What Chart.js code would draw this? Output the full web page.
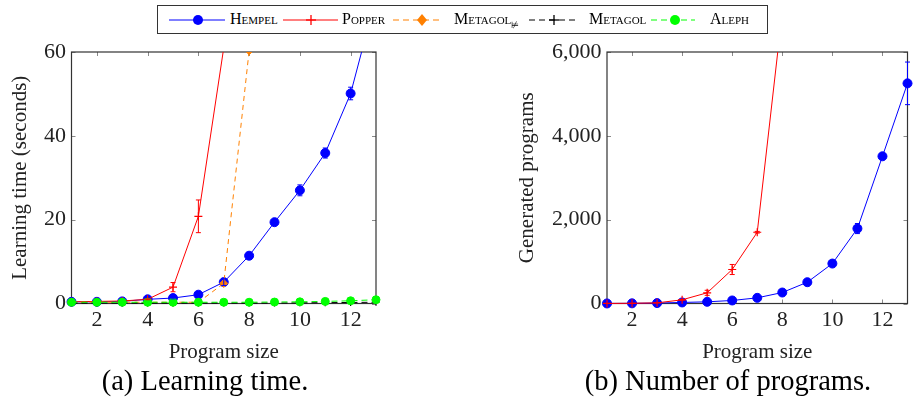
<!DOCTYPE html>
<html lang="en">
<head>
<meta charset="UTF-8">
<title>Learning time and number of programs</title>
<script src="https://cdn.jsdelivr.net/npm/chart.js"></script>
<style>
  body { margin: 0; width: 913px; height: 403px; background: #fff; position: relative; overflow: hidden;
         font-family: "Liberation Serif", serif; color: #000; }
  canvas { position: absolute; top: 0; }
  #graficoTempo { left: 0; }
  #graficoProgramas { left: 500px; }
  #legenda { position: absolute; left: 157px; top: 5px; width: 611px; height: 29px; border: 1px solid #333;
             box-sizing: border-box; background: #fff; z-index: 2; }
  #legenda svg { position: absolute; left: 0; top: 0; }
  .item { position: absolute; top: 3px; font-size: 16px; font-variant: small-caps; line-height: 20px; white-space: nowrap; }
  .item sub { font-size: 9px; font-variant: normal; vertical-align: -4px; }
  .legendaFig { position: absolute; top: 365px; font-size: 28.5px; line-height: 32px; text-align: center; white-space: nowrap; }
</style>
</head>
<body>

<div id="legenda">
  <svg width="611" height="29">
    <!-- Hempel -->
    <line x1="11" y1="14" x2="67" y2="14" stroke="#0000ff" stroke-width="1"/>
    <circle cx="40" cy="14" r="5" fill="#0000ff"/>
    <!-- Popper -->
    <line x1="125" y1="14" x2="180" y2="14" stroke="#ff0000" stroke-width="1"/>
    <line x1="153" y1="9" x2="153" y2="19" stroke="#ff0000" stroke-width="1.3"/>
    <line x1="148" y1="14" x2="158" y2="14" stroke="#ff0000" stroke-width="1.3"/>
    <!-- Metagol nao -->
    <line x1="235" y1="14" x2="285" y2="14" stroke="#ff8000" stroke-width="1" stroke-dasharray="6 4"/>
    <polygon points="264,8 269,14 264,20 259,14" fill="#ff8000"/>
    <!-- Metagol -->
    <line x1="371" y1="14" x2="420" y2="14" stroke="#000" stroke-width="1" stroke-dasharray="6 4"/>
    <line x1="396" y1="9" x2="396" y2="19" stroke="#000" stroke-width="1.3"/>
    <line x1="391" y1="14" x2="401" y2="14" stroke="#000" stroke-width="1.3"/>
    <!-- Aleph -->
    <line x1="493" y1="14" x2="537" y2="14" stroke="#00ff00" stroke-width="1" stroke-dasharray="6 4"/>
    <circle cx="517" cy="14" r="5" fill="#00ff00"/>
  </svg>
  <span class="item" style="left:72px">Hempel</span>
  <span class="item" style="left:184px">Popper</span>
  <span class="item" style="left:296px">Metagol<sub>⊭</sub></span>
  <span class="item" style="left:431px">Metagol</span>
  <span class="item" style="left:552px">Aleph</span>
</div>

<canvas id="graficoTempo" width="400" height="370"></canvas>
<canvas id="graficoProgramas" width="413" height="370"></canvas>

<div class="legendaFig" style="left:55px; width:300px">(a) Learning time.</div>
<div class="legendaFig" style="left:578px; width:300px">(b) Number of programs.</div>

<script>
// tamanhos de programa (eixo x)
const tamanhos = [1, 2, 3, 4, 5, 6, 7, 8, 9, 10, 11, 12, 13];
const ticksX = [2, 4, 6, 8, 10, 12];

// (a) tempo de aprendizado em segundos
const ticksTempo = [0, 20, 40, 60];
const hempelTempo = [0.4, 0.4, 0.5, 1.0, 1.3, 2.1, 5.1, 11.4, 19.4, 27.0, 35.9, 50.1, 73];
const hempelTempoErro = [0, 0, 0, 0, 0.2, 0.3, 0.8, 0.8, 0.5, 1.3, 1.2, 1.5, 2];
const popperTempo = [0.4, 0.5, 0.6, 1.0, 3.9, 20.8, 61];
const popperTempoErro = [0, 0, 0, 0.1, 1.1, 3.9, 0];
const metagolNaoTempo = [0.3, 0.3, 0.3, 0.3, 0.3, 0.3, 4.8, 60.3];
const metagolTempo = [0.1, 0.1, 0.1, 0.1, 0.1, 0.1, 0.1, 0.1, 0.1, 0.15, 0.2, 0.25, 0.3];
const alephTempo = [0.3, 0.3, 0.3, 0.3, 0.3, 0.3, 0.3, 0.3, 0.35, 0.4, 0.5, 0.65, 0.9];

// (b) programas gerados
const ticksProgramas = [0, 2000, 4000, 6000];
const hempelProgramas = [1, 4, 10, 25, 40, 72, 135, 262, 508, 953, 1788, 3512, 5252];
const hempelProgramasErro = [0, 0, 0, 0, 0, 5, 10, 15, 20, 30, 120, 40, 508];
const popperProgramas = [1, 5, 15, 88, 255, 811, 1700, 6950];
const popperProgramasErro = [0, 0, 0, 5, 60, 120, 20, 0];

const AZUL = '#0000ff', VERMELHO = '#ff0000', LARANJA = '#ff8000', PRETO = '#000000', VERDE = '#00ff00';

function serie(label, valores, erros, cor, extra) {
  return Object.assign({
    label: label,
    data: valores.map((v, i) => ({ x: tamanhos[i], y: v })),
    erros: erros || [],
    borderColor: cor,
    backgroundColor: cor,
    pointBackgroundColor: cor,
    pointBorderColor: cor,
    borderWidth: 1,
    pointBorderWidth: 1,
    tension: 0,
    clip: { left: 10, right: 10, top: 0, bottom: 10 }
  }, extra);
}

// barras de erro desenhadas com as escalas do chart
const barrasErro = {
  id: 'barrasErro',
  afterDatasetsDraw(chart) {
    const { ctx, chartArea: a, scales: { x, y } } = chart;
    ctx.save();
    ctx.beginPath();
    ctx.rect(a.left - 10, a.top, a.width + 20, a.height + 10);
    ctx.clip();
    chart.data.datasets.forEach(ds => {
      ctx.strokeStyle = ds.borderColor;
      ctx.lineWidth = 1;
      ds.erros.forEach((e, i) => {
        if (!e) return;
        const v = ds.data[i].y;
        const px = x.getPixelForValue(ds.data[i].x);
        const y1 = y.getPixelForValue(v + e);
        const y2 = y.getPixelForValue(v - e);
        ctx.beginPath();
        ctx.moveTo(px, y1); ctx.lineTo(px, y2);
        ctx.moveTo(px - 2.5, y1); ctx.lineTo(px + 2.5, y1);
        ctx.moveTo(px - 2.5, y2); ctx.lineTo(px + 2.5, y2);
        ctx.stroke();
      });
    });
    ctx.restore();
  }
};

// moldura e marcas internas no estilo pgfplots
const moldura = {
  id: 'moldura',
  beforeDatasetsDraw(chart) {
    const { ctx, chartArea: a, scales: { x, y } } = chart;
    ctx.save();
    ctx.strokeStyle = '#8a8a8a';
    ctx.lineWidth = 1;
    ctx.beginPath();
    x.ticks.forEach(t => {
      const px = Math.round(x.getPixelForValue(t.value)) + 0.5;
      ctx.moveTo(px, a.bottom); ctx.lineTo(px, a.bottom - 4);
      ctx.moveTo(px, a.top); ctx.lineTo(px, a.top + 4);
    });
    y.ticks.forEach(t => {
      const py = Math.round(y.getPixelForValue(t.value)) + 0.5;
      ctx.moveTo(a.left, py); ctx.lineTo(a.left + 4, py);
      ctx.moveTo(a.right, py); ctx.lineTo(a.right - 4, py);
    });
    ctx.stroke();
    ctx.strokeStyle = '#333';
    ctx.lineWidth = 1.2;
    ctx.strokeRect(a.left, a.top, a.width, a.height);
    ctx.restore();
  }
};

function opcoes(ticksY, maxY, tituloY, larguraY, padTituloY, padDireita, formato) {
  return {
    responsive: false,
    animation: false,
    layout: { padding: { left: 0, right: padDireita, top: 52, bottom: 0 } },
    plugins: { legend: { display: false }, tooltip: { enabled: false } },
    scales: {
      x: {
        type: 'linear', min: 1, max: 13,
        afterBuildTicks: s => { s.ticks = ticksX.map(v => ({ value: v })); },
        afterFit: s => { s.height = 66.5; },
        grid: { display: false, drawTicks: false },
        border: { display: false },
        ticks: { padding: 4, color: '#222', font: { family: 'Liberation Serif', size: 22 }, maxRotation: 0 },
        title: { display: true, text: 'Program size', color: '#222', padding: { top: 0, bottom: 5 },
                 font: { family: 'Liberation Serif', size: 21, lineHeight: 1.2 } }
      },
      y: {
        type: 'linear', min: 0, max: maxY,
        afterBuildTicks: s => { s.ticks = ticksY.map(v => ({ value: v })); },
        afterFit: s => { s.width = larguraY; },
        grid: { display: false, drawTicks: false },
        border: { display: false },
        ticks: { padding: 5.5, color: '#222', font: { family: 'Liberation Serif', size: 22 }, callback: formato },
        title: { display: true, text: tituloY, color: '#222', padding: { top: padTituloY, bottom: 0 },
                 font: { family: 'Liberation Serif', size: 21, lineHeight: 1.2 } }
      }
    }
  };
}

new Chart(document.getElementById('graficoTempo'), {
  type: 'line',
  data: {
    datasets: [
      serie('Hempel', hempelTempo, hempelTempoErro, AZUL, { pointStyle: 'circle', pointRadius: 4.5, order: 5 }),
      serie('Popper', popperTempo, popperTempoErro, VERMELHO, { pointStyle: 'cross', pointRadius: 4, pointBorderWidth: 1.2, order: 4 }),
      serie('Metagol⊭', metagolNaoTempo, null, LARANJA, { pointStyle: 'rectRot', pointRadius: 4, borderDash: [5, 4], order: 3 }),
      serie('Metagol', metagolTempo, null, PRETO, { pointStyle: 'cross', pointRadius: 3.5, pointBorderWidth: 1.2, borderDash: [6, 4], order: 2 }),
      serie('Aleph', alephTempo, null, VERDE, { pointStyle: 'circle', pointRadius: 4, borderDash: [6, 4], order: 1 })
    ]
  },
  options: opcoes(ticksTempo, 60, 'Learning time (seconds)', 71.5, 7.4, 24, v => v),
  plugins: [moldura, barrasErro]
});

new Chart(document.getElementById('graficoProgramas'), {
  type: 'line',
  data: {
    datasets: [
      serie('Hempel', hempelProgramas, hempelProgramasErro, AZUL, { pointStyle: 'circle', pointRadius: 4.5, order: 2 }),
      serie('Popper', popperProgramas, popperProgramasErro, VERMELHO, { pointStyle: 'cross', pointRadius: 4, pointBorderWidth: 1.2, order: 1 })
    ]
  },
  options: opcoes(ticksProgramas, 6000, 'Generated programs', 107, 14.4, 4, v => v.toLocaleString('en-US')),
  plugins: [moldura, barrasErro]
});
</script>
</body>
</html>
